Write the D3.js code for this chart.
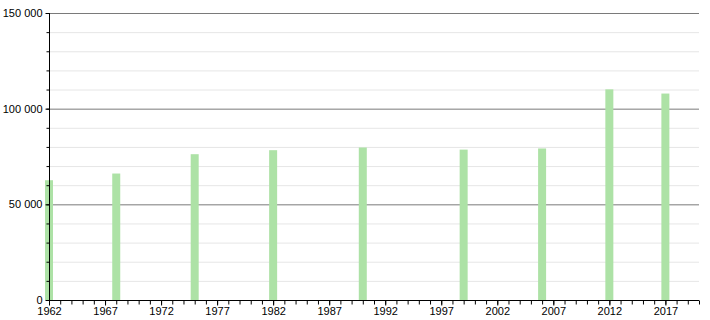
<!DOCTYPE html>
<html>
<head>
<meta charset="utf-8">
<script src="https://cdn.jsdelivr.net/npm/d3@7"></script>
<style>
  body { margin: 0; background: #fff; }
  svg { display: block; font-family: "Liberation Sans", Arial, sans-serif; }
</style>
</head>
<body>
<svg id="chart" width="710" height="320"></svg>
<script>
const years = [1962, 1968, 1975, 1982, 1990, 1999, 2006, 2012, 2017];
const population = [62600, 66100, 76200, 78300, 79700, 78600, 79200, 110100, 107900];
const yMajorTicks = [0, 50000, 100000, 150000];
const xLabelYears = [1962, 1967, 1972, 1977, 1982, 1987, 1992, 1997, 2002, 2007, 2012, 2017];

const svg = d3.select('#chart');
const margin = { top: 13, right: 11, bottom: 20, left: 49 };
const width = +svg.attr("width") - margin.left - margin.right;
const height = +svg.attr("height") - margin.top - margin.bottom;
const g = svg.append("g").attr("transform", `translate(${margin.left},${margin.top})`);

const x = d3.scaleLinear().domain([1962, 2020]).range([0, width]);
const y = d3.scaleLinear().domain([0, 150000]).range([height, 0]);
const fmt = v => d3.format(",")(v).replace(/,/g, " ");

// minor gridlines every 10 000
g.append("g")
    .selectAll("line")
    .data(d3.range(10000, 150000, 10000).filter(v => v % 50000 !== 0))
    .join("line")
    .attr("x1", 0).attr("x2", width)
    .attr("y1", d => y(d) + 0.5).attr("y2", d => y(d) + 0.5)
    .attr("stroke", "#e6e6e6");

// major gridlines
g.append("g")
    .selectAll("line")
    .data(yMajorTicks.filter(v => v > 0))
    .join("line")
    .attr("x1", 0).attr("x2", width)
    .attr("y1", d => y(d) + 0.5).attr("y2", d => y(d) + 0.5)
    .attr("stroke", "#7a7a7a");

// bars
const barW = 8;
g.append("g")
    .selectAll("rect")
    .data(years.map((yr, i) => ({ yr, v: population[i] })))
    .join("rect")
    .attr("x", d => x(d.yr) - barW / 2)
    .attr("width", barW)
    .attr("y", d => y(d.v))
    .attr("height", d => height - y(d.v))
    .attr("fill", "#ade2a6");

// x axis: yearly minor ticks, labels every 5 years
const xAxis = g.append("g").attr("transform", `translate(0,${height + 0.5})`);
xAxis.call(d3.axisBottom(x).tickValues(d3.range(1962, 2021)).tickSize(4).tickFormat(""))
    .call(a => a.select(".domain").attr("d", `M0,0H${width}`));
xAxis.call(a => a.selectAll(".tick line").attr("stroke", "#000"));
g.append("g")
    .attr("transform", `translate(0,${height + 0.5})`)
    .call(d3.axisBottom(x).tickValues(xLabelYears).tickSize(5).tickFormat(d3.format("d")))
    .call(a => a.select(".domain").remove())
    .call(a => a.selectAll("text").attr("font-size", 11).attr("fill", "#000").attr("dy", "0.6em"));

// y axis
g.append("g")
    .attr("transform", "translate(0.5,0)")
    .call(d3.axisLeft(y).tickValues(d3.range(0, 150001, 10000)).tickSize(3).tickFormat(""))
    .call(a => a.select(".domain").attr("d", `M0,0V${height}`));
g.append("g")
    .attr("transform", "translate(0.5,0)")
    .call(d3.axisLeft(y).tickValues(yMajorTicks).tickSize(4).tickPadding(3).tickFormat(fmt))
    .call(a => a.select(".domain").remove())
    .call(a => a.selectAll("text").attr("font-size", 11).attr("fill", "#000"));
</script>
</body>
</html>
